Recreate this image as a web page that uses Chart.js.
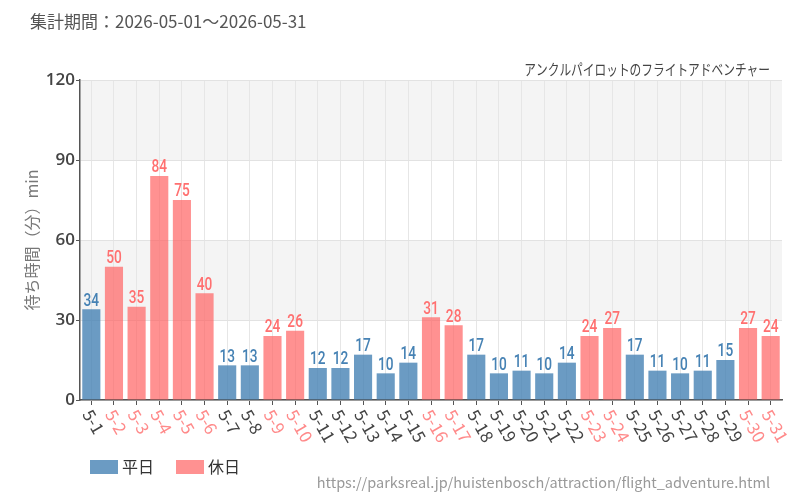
<!DOCTYPE html>
<html>
<head>
<meta charset="utf-8">
<script src="https://cdn.jsdelivr.net/npm/chart.js@4"></script>
<style>
  body { margin: 0; background: #fff; }
  #wrap { width: 800px; height: 500px; position: relative; }
</style>
</head>
<body>
<div id="wrap"><canvas id="waitChart"></canvas></div>
<script>
// days of May 2026 and average wait (min)
const days = ['5-1','5-2','5-3','5-4','5-5','5-6','5-7','5-8','5-9','5-10','5-11','5-12','5-13','5-14','5-15','5-16',
  '5-17','5-18','5-19','5-20','5-21','5-22','5-23','5-24','5-25','5-26','5-27','5-28','5-29','5-30','5-31'];
const waits = [34,50,35,84,75,40,13,13,24,26,12,12,17,10,14,31,28,17,10,11,10,14,24,27,17,11,10,11,15,27,24];
const holidays = ['5-2','5-3','5-4','5-5','5-6','5-9','5-10','5-16','5-17','5-23','5-24','5-30','5-31'];
const yTicks = [0, 30, 60, 90, 120];

const titleText = '集計期間：2026-05-01～2026-05-31';
const subtitleText = 'アンクルパイロットのフライトアドベンチャー';
const urlText = 'https://parksreal.jp/huistenbosch/attraction/flight_adventure.html';

const isHoliday = (d) => holidays.includes(d);
const weekdayVals = days.map((d, i) => isHoliday(d) ? null : waits[i]);
const holidayVals = days.map((d, i) => isHoliday(d) ? waits[i] : null);

const jpFont = "'Noto Sans CJK JP', 'Noto Sans', sans-serif";
const numFont = "Roboto, 'Liberation Sans', sans-serif";

// grey bands, rotated labels, value labels, legend and texts
const decorPlugin = {
  id: 'decor',
  beforeDraw(chart) {
    const { ctx, chartArea, scales } = chart;
    const y = scales.y;
    ctx.save();
    ctx.fillStyle = '#f4f4f4';
    [[90, 120], [30, 60]].forEach(([a, b]) => {
      const top = y.getPixelForValue(b), bot = y.getPixelForValue(a);
      ctx.fillRect(chartArea.left, top, chartArea.right - chartArea.left, bot - top);
    });
    ctx.restore();
  },
  afterDraw(chart) {
    const { ctx, chartArea, scales } = chart;
    const x = scales.x;
    ctx.save();
    // title
    ctx.fillStyle = '#555';
    ctx.font = '17px ' + jpFont;
    ctx.textAlign = 'left';
    ctx.textBaseline = 'middle';
    ctx.fillText(titleText, 30, 22);
    // subtitle (narrow)
    ctx.save();
    ctx.font = '15px ' + jpFont;
    ctx.fillStyle = '#444';
    ctx.textAlign = 'right';
    ctx.translate(770, 69);
    ctx.scale(0.78, 1);
    ctx.fillText(subtitleText, 0, 0);
    ctx.restore();
    // url
    ctx.fillStyle = '#999';
    ctx.font = '14.5px ' + jpFont;
    ctx.textAlign = 'right';
    ctx.fillText(urlText, 770, 482);

    // legend
    ctx.textAlign = 'left';
    ctx.font = '16px ' + jpFont;
    let lx = 90;
    chart.data.datasets.forEach((ds) => {
      ctx.fillStyle = ds.backgroundColor;
      ctx.fillRect(lx, 460, 28, 14);
      ctx.fillStyle = '#333';
      ctx.fillText(ds.label, lx + 32, 467);
      lx += 32 + ctx.measureText(ds.label).width + 22;
    });

    // rotated x labels
    ctx.font = '17px ' + jpFont;
    ctx.textAlign = 'left';
    ctx.textBaseline = 'middle';
    days.forEach((d, i) => {
      const px = x.getPixelForValue(i);
      ctx.save();
      ctx.translate(px - 4, chartArea.bottom + 11);
      ctx.rotate(60 * Math.PI / 180);
      ctx.fillStyle = isHoliday(d) ? '#ff8a8a' : '#444';
      ctx.fillText(d, 0, 0);
      ctx.restore();
    });

    // value labels (condensed look)
    ctx.font = '500 19px ' + numFont;
    ctx.textAlign = 'center';
    ctx.textBaseline = 'bottom';
    chart.data.datasets.forEach((ds, di) => {
      const meta = chart.getDatasetMeta(di);
      meta.data.forEach((bar, i) => {
        if (ds.data[i] == null) return;
        ctx.save();
        ctx.translate(bar.x, bar.y + 1);
        ctx.scale(0.72, 1);
        ctx.fillStyle = di === 0 ? '#4682b4' : '#ff7070';
        ctx.fillText(ds.data[i], 0, 0);
        ctx.restore();
      });
    });
    ctx.restore();
  }
};

new Chart(document.getElementById('waitChart'), {
  type: 'bar',
  data: {
    labels: days,
    datasets: [
      { label: '平日', data: weekdayVals, backgroundColor: 'rgba(70,130,180,0.8)' },
      { label: '休日', data: holidayVals, backgroundColor: 'rgba(255,99,99,0.7)' }
    ]
  },
  options: {
    responsive: true,
    maintainAspectRatio: false,
    animation: false,
    layout: { padding: { top: 80, left: 18, right: 18, bottom: 100 } },
    datasets: { bar: { barPercentage: 0.8, categoryPercentage: 1.0 } },
    plugins: {
      tooltip: { enabled: false },
      legend: { display: false }
    },
    scales: {
      x: {
        stacked: true,
        grid: { offset: false, color: '#e6e6e6', tickLength: 5, tickColor: '#555' },
        border: { color: '#555', width: 1.5 },
        ticks: {
          color: 'rgba(0,0,0,0)',
          maxRotation: 0,
          autoSkip: false,
          callback: () => ''
        },
        afterFit(scale) { scale.height = 0; }
      },
      y: {
        stacked: true,
        min: 0,
        max: 120,
        afterBuildTicks(scale) { scale.ticks = yTicks.map(v => ({ value: v })); },
        afterFit(scale) { scale.width = 62; },
        grid: { color: '#e2e2e2', tickLength: 4, tickColor: '#555' },
        border: { color: '#555', width: 1.5 },
        ticks: {
          color: '#444',
          padding: 1,
          font: { family: "'Open Sans', sans-serif", size: 17, weight: '600' }
        },
        title: {
          display: true,
          text: '待ち時間（分）min',
          color: '#777',
          padding: { bottom: 8 },
          font: { family: jpFont, size: 16 }
        }
      }
    }
  },
  plugins: [decorPlugin]
});
</script>
</body>
</html>
